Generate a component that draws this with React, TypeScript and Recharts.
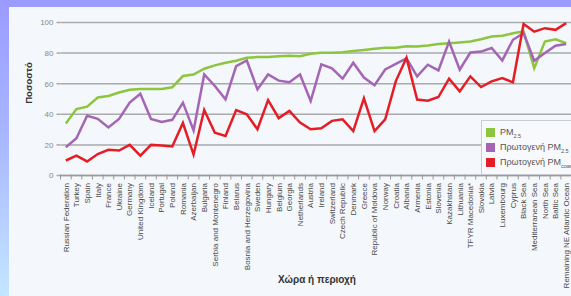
import { LineChart, Line, XAxis, YAxis, CartesianGrid, Legend } from 'recharts';

const countries = [
  'Russian Federation', 'Turkey', 'Spain', 'Italy', 'France', 'Ukraine', 'Germany', 'United Kingdom',
  'Iceland', 'Portugal', 'Poland', 'Romania', 'Azerbaijan', 'Bulgaria', 'Serbia and Montenegro', 'Finland',
  'Belarus', 'Bosnia and Herzegovina', 'Sweden', 'Hungary', 'Belgium', 'Georgia', 'Netherlands', 'Austria',
  'Ireland', 'Switzerland', 'Czech Republic', 'Denmark', 'Greece', 'Republic of Moldova', 'Norway', 'Croatia',
  'Albania', 'Armenia', 'Estonia', 'Slovenia', 'Kazakhstan', 'Lithuania', 'TFYR Macedonia*', 'Slovakia',
  'Latvia', 'Luxembourg', 'Cyprus', 'Black Sea', 'Mediterranean Sea', 'North Sea', 'Baltic Sea',
  'Remaining NE Atlantic Ocean',
];

const pm25 = [
  34, 43.4, 45, 51, 52, 54.2, 56, 56.6, 56.6, 56.6, 57.7, 65, 66, 69.8, 72, 73.7,
  75, 77, 77.4, 77.4, 78, 78.3, 78, 79.6, 80.2, 80.2, 80.6, 81.3, 82, 82.8, 83.5, 83.5,
  84.4, 84.3, 85, 85.9, 86.5, 87, 87.6, 89, 90.9, 91.3, 93, 94.1, 70.2, 87.6, 89, 86.5,
];

const primaryPm25 = [
  18.5, 24.4, 39, 37, 31.4, 37, 47.7, 53.4, 37, 35, 36.4, 47.6, 29.5, 66, 58.5, 49.8,
  71.5, 75.2, 56.3, 66, 62, 61, 66, 48.7, 72.6, 70, 63.3, 73.7, 64, 59, 69.3, 73,
  76.5, 64.8, 72.4, 68.7, 87.6, 69.1, 80.4, 81, 83.3, 75.2, 88.7, 93, 75, 80, 84.8, 85.9,
];

const primaryCoarse = [
  9.8, 13, 9.2, 14, 16.8, 16.3, 20, 13, 20, 19.6, 19, 34.3, 13.7, 42.8, 28, 25.9,
  42.8, 40, 30.2, 49.3, 37.5, 42.2, 34.6, 30.2, 30.9, 35.7, 36.7, 29, 50.4, 29, 36.7, 61.7,
  77, 49.6, 48.9, 51.3, 63.3, 55, 64.8, 57.8, 61.5, 63.7, 60.9, 99, 94, 96.3, 95.2, 99.6,
];

const yTicks = [0, 20, 40, 60, 80, 100];

const data = countries.map((name, i) => ({
  name,
  pm25: pm25[i],
  primaryPm25: primaryPm25[i],
  primaryCoarse: primaryCoarse[i],
}));

const W = 580;
const H = 296;
const M = { top: 22.5, right: 8.5, left: 10.5, bottom: 0.5 };
const Y_W = 50;
const BAND = (W - M.left - M.right - Y_W) / countries.length;

const font = '"Liberation Sans", Arial, sans-serif';

const CountryTick = (props: any) => {
  const { x, y, payload } = props;
  const bx = x - BAND / 2;
  return (
    <g>
      <line x1={bx} y1={y - 1} x2={bx} y2={y + 4} stroke="#9a9a9a" strokeWidth={1} />
      <text
        x={x}
        y={y + 7.5}
        dy="0.35em"
        transform={`rotate(-90, ${x}, ${y + 7.5})`}
        textAnchor="end"
        fontSize={8}
        fontFamily={font}
        fill="#4a4a4a"
      >
        {payload.value}
      </text>
    </g>
  );
};

const items = [
  { label: 'PM', sub: '2.5', color: '#8cc63e' },
  { label: 'Πρωτογενή PM', sub: '2.5', color: '#a466b4' },
  { label: 'Πρωτογενή PM', sub: 'coarse', color: '#e41e26' },
];

const LegendBox = () => (
  <div
    style={{
      border: '1px solid #c9ccd2',
      background: '#f8f9fc',
      padding: '4px 0 4px 4px',
      width: 110,
      boxSizing: 'border-box',
      fontFamily: font,
      fontSize: 9,
      color: '#555',
    }}
  >
    {items.map((it) => (
      <div key={it.label + it.sub} style={{ display: 'flex', alignItems: 'center', height: 15 }}>
        <span style={{ width: 9, height: 9, background: it.color, marginRight: 5, flexShrink: 0 }} />
        <span style={{ whiteSpace: 'nowrap' }}>
          {it.label}
          <sub style={{ fontSize: 5.5 }}>{it.sub}</sub>
        </span>
      </div>
    ))}
  </div>
);

export default function App() {
  return (
    <div
      style={{
        position: 'absolute',
        left: 0,
        top: 0,
        width: 571,
        height: 296,
        overflow: 'hidden',
        background: 'linear-gradient(to bottom, #9b9bff 0%, #a8b6ff 45%, #c3e6ff 100%)',
      }}
    >
      <div
        style={{
          position: 'absolute',
          left: 9,
          top: 7,
          width: 600,
          height: 300,
          background: '#f4f7fb',
        }}
      />
      <div style={{ position: 'absolute', left: 0, top: 0 }}>
        <LineChart width={W} height={H} data={data} margin={M}>
          <CartesianGrid horizontal vertical={false} stroke="#aaaaaa" strokeWidth={1.5} />
          <XAxis
            dataKey="name"
            scale="band"
            interval={0}
            height={120}
            tickLine={false}
            tickSize={0}
            tickMargin={0}
            axisLine={{ stroke: '#9a9a9a', strokeWidth: 1.5 }}
            tick={<CountryTick />}
          />
          <YAxis
            domain={[0, 100]}
            ticks={yTicks}
            width={Y_W}
            axisLine={false}
            tickLine={{ stroke: '#aaaaaa', strokeWidth: 1.5 }}
            tickSize={4}
            tickMargin={3}
            tick={{ fontSize: 8, fill: '#8a8a8a', fontFamily: font }}
          />
          <Legend
            layout="vertical"
            align="center"
            verticalAlign="middle"
            content={<LegendBox />}
            wrapperStyle={{ left: 481, top: 120, width: 110 }}
          />
          <Line dataKey="pm25" stroke="#8cc63e" strokeWidth={2.5} dot={false} isAnimationActive={false} />
          <Line dataKey="primaryPm25" stroke="#a466b4" strokeWidth={2.5} dot={false} isAnimationActive={false} />
          <Line dataKey="primaryCoarse" stroke="#e41e26" strokeWidth={2.5} dot={false} isAnimationActive={false} />
        </LineChart>
      </div>
      <div
        style={{
          position: 'absolute',
          left: 28,
          top: 83,
          transform: 'translate(-50%, -50%) rotate(-90deg)',
          fontFamily: font,
          fontWeight: 'bold',
          fontSize: 9.5,
          color: '#333',
          whiteSpace: 'nowrap',
        }}
      >
        Ποσοστό
      </div>
      <div
        style={{
          position: 'absolute',
          left: 317,
          top: 279,
          transform: 'translate(-50%, -50%)',
          fontFamily: font,
          fontWeight: 'bold',
          fontSize: 10,
          color: '#333',
          whiteSpace: 'nowrap',
        }}
      >
        Χώρα ή περιοχή
      </div>
    </div>
  );
}
